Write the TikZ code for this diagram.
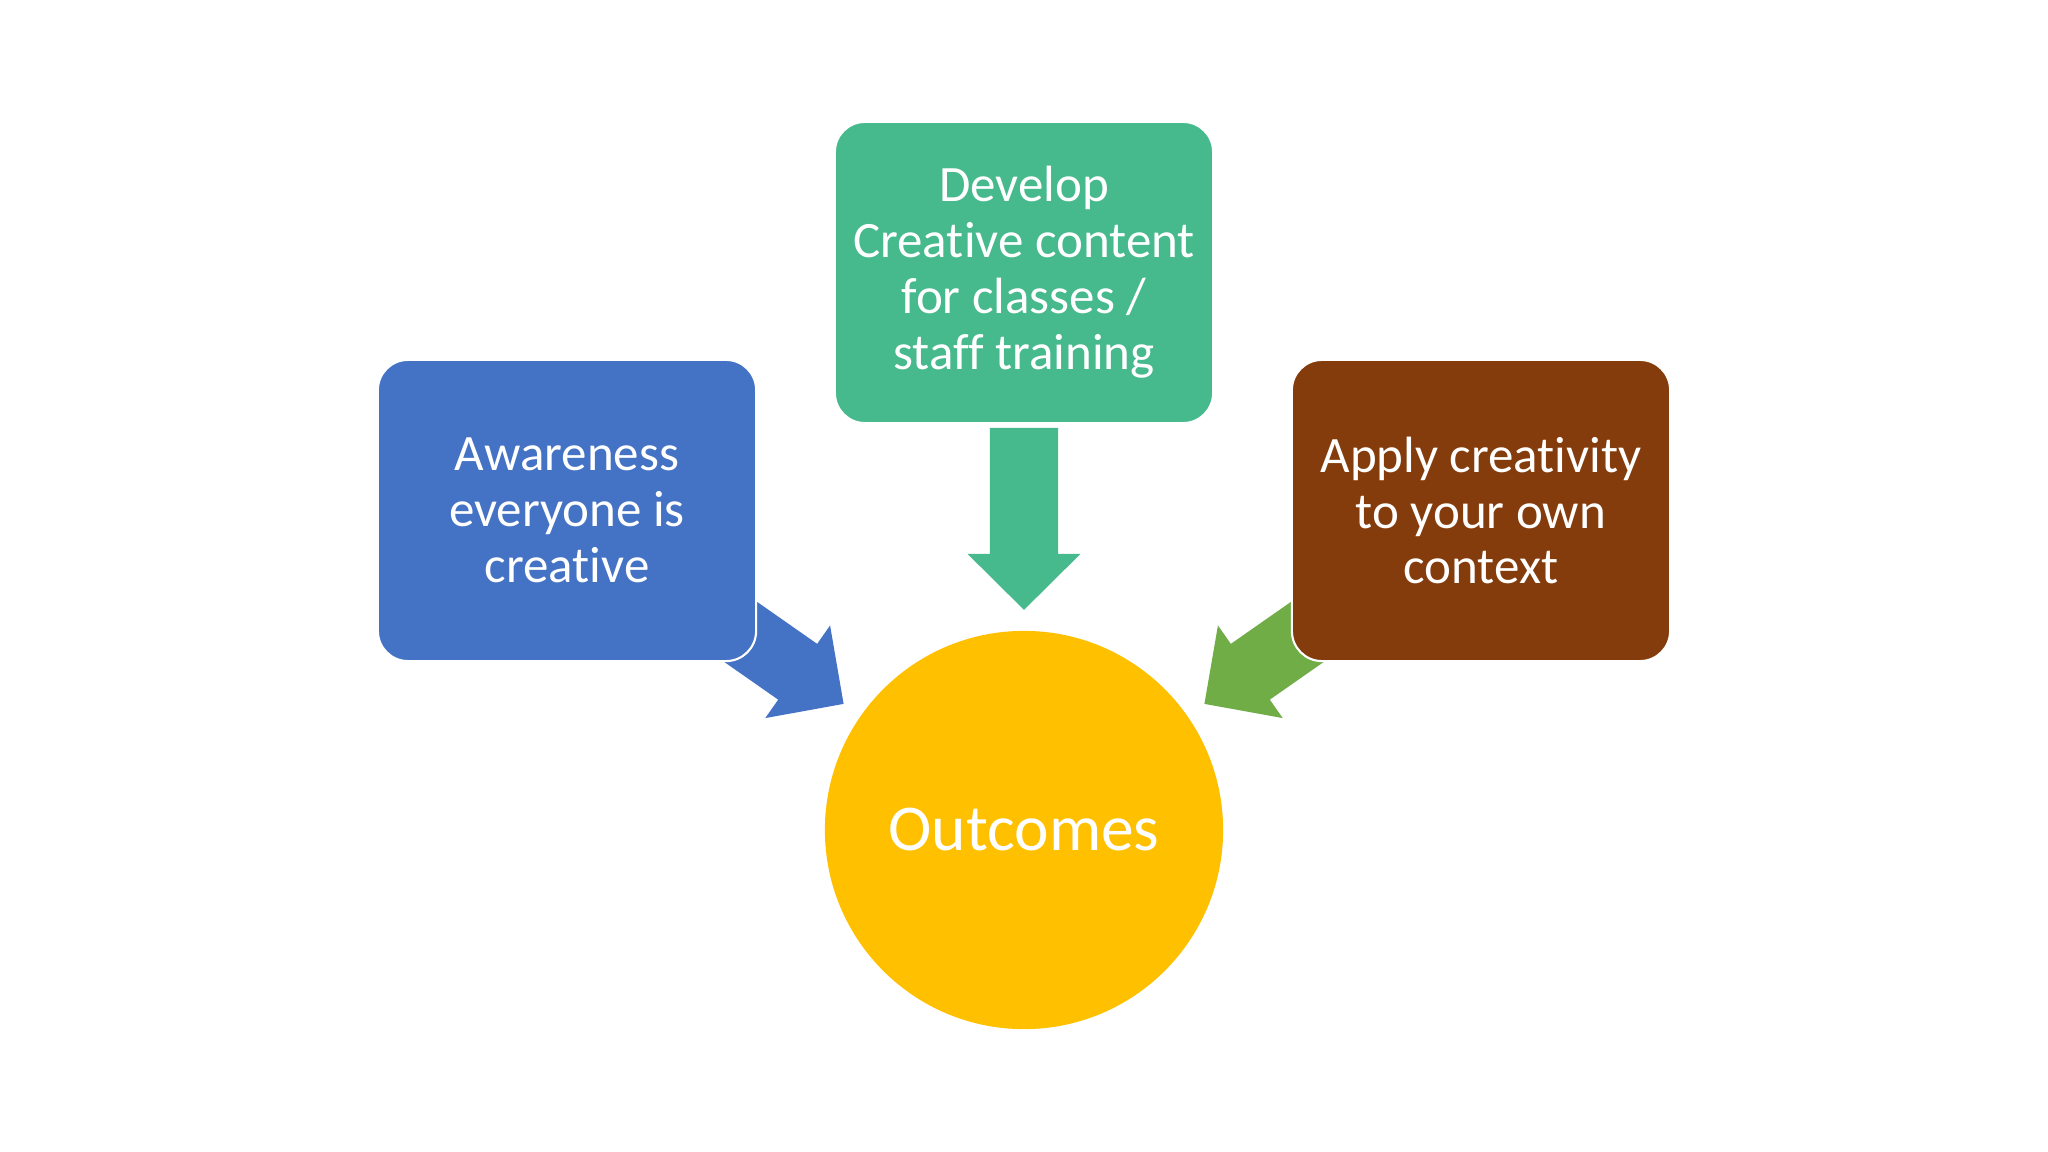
\documentclass[tikz,border=0pt]{standalone}
\usepackage{fontspec}
\setmainfont{Carlito}[Ligatures=NoCommon]
\usetikzlibrary{calc}
\pgfdeclarelayer{background}
\pgfsetlayers{background,main}

\definecolor{awareblue}{HTML}{4472C4}
\definecolor{devgreen}{HTML}{46B98D}
\definecolor{applybrown}{HTML}{843C0C}
\definecolor{outyellow}{HTML}{FFC000}
\definecolor{leafgreen}{HTML}{70AD47}

% block arrow: colour, from node, to node
\newcommand{\feed}[3]{%
\coordinate (#2-tip) at ($(#3.center)!2.2cm!(#2.center)$);
\coordinate (#2-head) at ($(#3.center)!2.76cm!(#2.center)$);
\coordinate (#2-tail) at ($(#3.center)!4.02cm!(#2.center)$);
\fill[#1] (#2-tip) -- ($(#2-head)!0.565cm!90:(#2.center)$)
   -- ($(#2-head)!0.34cm!90:(#2.center)$) -- ($(#2-tail)!0.34cm!90:(#2.center)$)
   -- ($(#2-tail)!0.34cm!-90:(#2.center)$) -- ($(#2-head)!0.34cm!-90:(#2.center)$)
   -- ($(#2-head)!0.565cm!-90:(#2.center)$) -- cycle;
}

\begin{document}
\begin{tikzpicture}[x=0.01cm, y=-0.01cm,
  block/.style={rectangle, rounded corners=0.3cm, minimum width=3.78cm, minimum height=3.01cm,
    draw=white, line width=0.6pt, text=white, align=center, font=\fontsize{14.5}{15.9}\selectfont},
  goal/.style={circle, minimum size=3.98cm, inner sep=0pt, fill=outyellow, text=white,
    font=\fontsize{18.6}{22}\selectfont}]
\useasboundingbox (0,0) rectangle (2048,1152);
\node[goal] (outcomes) at (1024,830) {Outcomes};
\node[block, fill=awareblue] (aware) at (567,510.5) {Awareness\\everyone is\\creative};
\node[block, fill=devgreen] (develop) at (1024,272.5) {Develop\\Creative content\\for classes /\\staff training};
\node[block, fill=applybrown] (apply) at (1481,510.5) {Apply creativity\\to your own\\context};

\begin{pgfonlayer}{background}
\fill[white] (0,0) rectangle (2048,1152);
\feed{awareblue}{aware}{outcomes}
\feed{devgreen}{develop}{outcomes}
\feed{leafgreen}{apply}{outcomes}
\end{pgfonlayer}
\end{tikzpicture}
\end{document}
